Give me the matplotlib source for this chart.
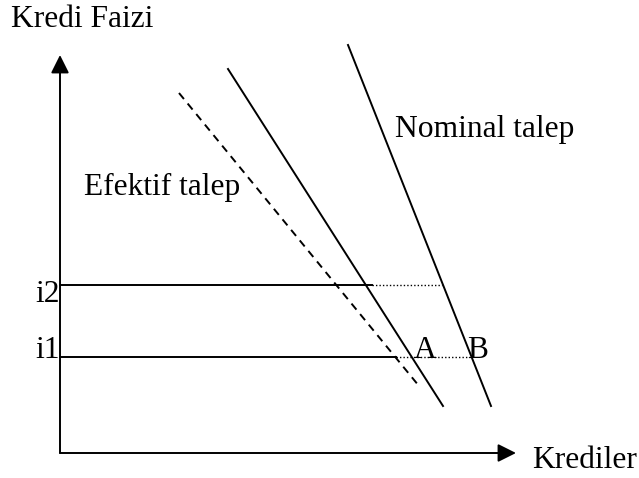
import matplotlib
matplotlib.use("Agg")
import matplotlib.pyplot as plt

# diagram drawn in pixel space of the 639x478 picture (y grows downward)
origin = (60, 453)
y_tip = 55
x_tip = 516

# demand lines: (x0, y0) -> (x1, y1)
nominal = ([348, 491], [45, 406])
middle = ([228, 443], [69, 406])
efektif = ([179, 419], [93, 386])

# interest levels: y, end of solid part, end of dotted part
levels = {"i2": (285, 372, 442), "i1": (357, 396, 470)}

# labels: text, x, baseline y
labels = [
    ("i2", 35, 302),
    ("i1", 35, 358),
    ("Kredi Faizi", 11, 27),
    ("Krediler", 532, 468),
    ("Efektif talep", 84, 195),
    ("Nominal talep", 395, 137),
    ("A", 414, 358),
    ("B", 467, 358),
]

FONT = ["Liberation Serif", "DejaVu Serif"]
FS = 22.7

fig = plt.figure(figsize=(6.39, 4.78), dpi=100)
ax = fig.add_axes([0, 0, 1, 1])
ax.set_xlim(0, 639)
ax.set_ylim(478, 0)
ax.axis("off")

arrow = dict(arrowstyle="-|>,head_length=1.1,head_width=0.55", color="black",
             lw=1.4, mutation_scale=10, shrinkA=0, shrinkB=0)
ax.annotate("", xy=(origin[0], y_tip), xytext=origin, arrowprops=arrow)
ax.annotate("", xy=(x_tip, origin[1]), xytext=origin, arrowprops=arrow)

ax.plot(*nominal, color="black", lw=1.4)
ax.plot(*middle, color="black", lw=1.4)
ax.plot(*efektif, color="black", lw=1.4, linestyle=(0, (4, 3)))

for name, (y, x_solid, x_dot) in levels.items():
    ax.plot([origin[0], x_solid], [y, y], color="black", lw=1.4)
    ax.plot([x_solid, x_dot], [y, y], color="black", lw=1.0, linestyle=(0, (1, 1.5)))

for txt, x, y in labels:
    ax.text(x, y, txt, fontsize=FS, family=FONT, va="baseline", ha="left")

fig.savefig("out.png", dpi=100)
